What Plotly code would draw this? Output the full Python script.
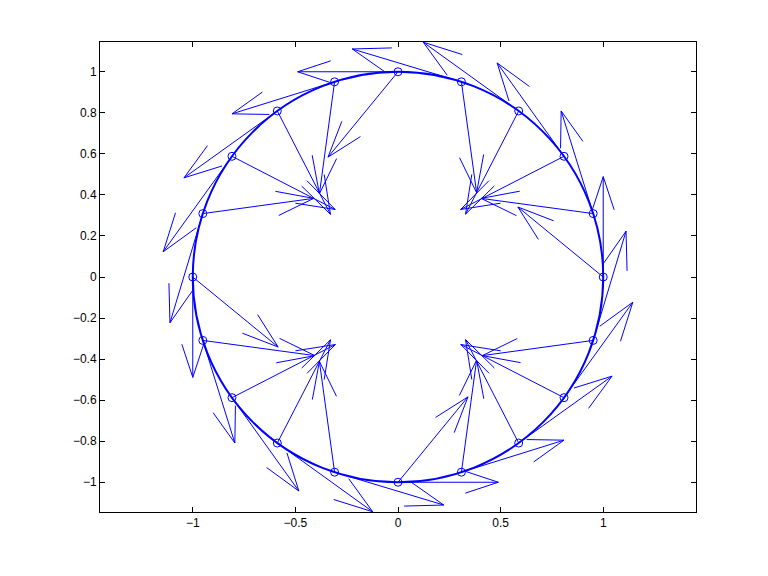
import math
import plotly.graph_objects as go
import plotly.figure_factory as ff

# Points on the unit circle (every 18 degrees)
point_x = [1.000, 0.951, 0.809, 0.588, 0.309, 0.000, -0.309, -0.588, -0.809, -0.951,
           -1.000, -0.951, -0.809, -0.588, -0.309, 0.000, 0.309, 0.588, 0.809, 0.951]
point_y = [0.000, 0.309, 0.588, 0.809, 0.951, 1.000, 0.951, 0.809, 0.588, 0.309,
           0.000, -0.309, -0.588, -0.809, -0.951, -1.000, -0.951, -0.809, -0.588, -0.309]

# Tangential arrows
tan_u = [0.000, -0.156, -0.326, -0.465, -0.532, -0.489, -0.500, -0.455, -0.335, -0.160,
         0.000, 0.156, 0.326, 0.465, 0.532, 0.489, 0.500, 0.455, 0.335, 0.160]
tan_v = [0.489, 0.500, 0.455, 0.335, 0.160, 0.000, -0.156, -0.326, -0.465, -0.532,
         -0.489, -0.500, -0.455, -0.335, -0.160, 0.000, 0.156, 0.326, 0.465, 0.532]

# Inward arrows
in_u = [-0.416, -0.546, -0.504, -0.259, 0.074, -0.341, -0.074, 0.259, 0.503, 0.540,
        0.416, 0.546, 0.504, 0.259, -0.074, 0.341, 0.074, -0.259, -0.503, -0.540]
in_v = [0.341, 0.074, -0.259, -0.503, -0.540, -0.416, -0.546, -0.504, -0.259, 0.074,
        -0.341, -0.074, 0.259, 0.503, 0.540, 0.416, 0.546, 0.504, 0.259, -0.074]

circle_radius = 1.0
x_ticks = [-1, -0.5, 0, 0.5, 1]
y_ticks = [-1, -0.8, -0.6, -0.4, -0.2, 0, 0.2, 0.4, 0.6, 0.8, 1]
x_range = [-1.452, 1.452]
y_range = [-1.145, 1.145]

BLUE = "rgb(0,0,255)"
head_scale = 0.33 * math.sqrt(1 + 0.33 ** 2)
head_angle = math.atan(0.33)

fig = go.Figure()

q1 = ff.create_quiver(point_x, point_y, tan_u, tan_v, scale=1,
                      arrow_scale=head_scale, angle=head_angle,
                      line=dict(color=BLUE, width=1), showlegend=False, hoverinfo="skip")
q2 = ff.create_quiver(point_x, point_y, in_u, in_v, scale=1,
                      arrow_scale=head_scale, angle=head_angle,
                      line=dict(color=BLUE, width=1), showlegend=False, hoverinfo="skip")
for tr in q1.data:
    fig.add_trace(tr)
for tr in q2.data:
    fig.add_trace(tr)

fig.add_trace(go.Scatter(x=point_x, y=point_y, mode="markers",
                         marker=dict(symbol="circle-open", size=8, color=BLUE,
                                     line=dict(width=1, color=BLUE)),
                         showlegend=False, hoverinfo="skip"))

fig.add_shape(type="circle", xref="x", yref="y",
              x0=-circle_radius, y0=-circle_radius, x1=circle_radius, y1=circle_radius,
              line=dict(color=BLUE, width=2))

axis_common = dict(showgrid=False, zeroline=False, showline=True, linecolor="black",
                   linewidth=1, mirror="ticks", ticks="inside", ticklen=5,
                   tickcolor="black", tickfont=dict(family="Liberation Sans", size=12, color="black"))

fig.update_xaxes(range=x_range, tickvals=x_ticks, **axis_common)
fig.update_yaxes(range=y_range, tickvals=y_ticks, **axis_common)

fig.update_layout(width=768, height=576, plot_bgcolor="white", paper_bgcolor="white",
                  margin=dict(l=100, r=72, t=42, b=64), showlegend=False)

fig.write_html("out.html", config={"displayModeBar": False},
               post_script="document.body.style.margin='0px';document.body.style.overflow='hidden';")
